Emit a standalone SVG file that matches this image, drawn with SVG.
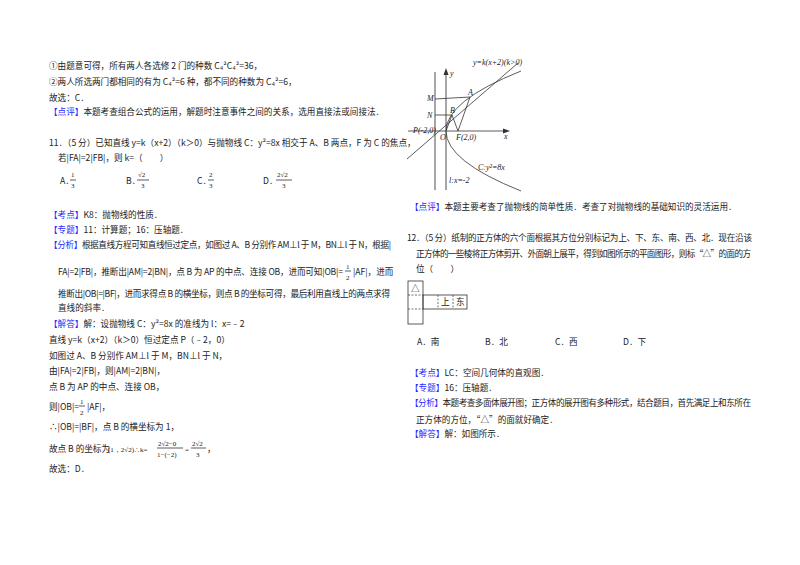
<svg xmlns="http://www.w3.org/2000/svg" width="800" height="565" viewBox="0 0 800 565">
<style>
text{font-family:"Noto Sans CJK SC","Liberation Sans",sans-serif;font-size:8.6px;fill:#222}
.b{fill:#2a2aff}
.m{font-family:"Liberation Serif",serif;font-style:italic;font-size:8px}
.f{font-family:"Liberation Serif",serif;font-size:7px}
.ln{stroke:#333;stroke-width:0.8;fill:none}
.g{stroke:#777;stroke-width:1.3;fill:none}
</style>
<rect width="800" height="565" fill="#fff"/>
<g id="left">
<text x="49" y="69">①由题意可得，所有两人各选修 2 门的种数 C₄²C₄²=36，</text>
<text x="49" y="85">②两人所选两门都相同的有为 C₄²=6 种，都不同的种数为 C₄²=6，</text>
<text x="49" y="101">故选：C．</text>
<text x="49" y="115"><tspan class="b">【点评】</tspan>本题考查组合公式的运用，解题时注意事件之间的关系，选用直接法或间接法．</text>
<text x="49" y="146">11．（5 分）已知直线 y=k（x+2）（k＞0）与抛物线 C：y²=8x 相交于 A、B 两点，F 为 C 的焦点，</text>
<text x="58" y="161">若|FA|=2|FB|，则 k=（　　）</text>
<text x="60" y="184">A．</text><text class="f" x="71" y="177">1</text><line x1="70" y1="180" x2="76" y2="180" class="ln"/><text class="f" x="71" y="188">3</text>
<text x="126" y="184">B．</text><text class="f" x="138" y="177">√2</text><line x1="137" y1="180" x2="149" y2="180" class="ln"/><text class="f" x="141" y="188">3</text>
<text x="197" y="184">C．</text><text class="f" x="209" y="177">2</text><line x1="208" y1="180" x2="214" y2="180" class="ln"/><text class="f" x="209" y="188">3</text>
<text x="263" y="184">D．</text><text class="f" x="277" y="177">2√2</text><line x1="276" y1="180" x2="292" y2="180" class="ln"/><text class="f" x="282" y="188">3</text>
<text x="49" y="218"><tspan class="b">【考点】</tspan>K8：抛物线的性质．</text>
<text x="49" y="233"><tspan class="b">【专题】</tspan>11：计算题；16：压轴题．</text>
<text x="49" y="248" textLength="342"><tspan class="b">【分析】</tspan>根据直线方程可知直线恒过定点，如图过 A、B 分别作 AM⊥l 于 M，BN⊥l 于 N，根据|</text>
<text x="58" y="275" textLength="285">FA|=2|FB|，推断出|AM|=2|BN|，点 B 为 AP 的中点、连接 OB，进而可知|OB|=</text>
<text class="f" x="346" y="269">1</text><line x1="345" y1="271" x2="351" y2="271" class="ln"/><text class="f" x="346" y="280">2</text>
<text x="353" y="275">|AF|，进而</text>
<text x="58" y="297" textLength="332">推断出|OB|=|BF|，进而求得点 B 的横坐标，则点 B 的坐标可得，最后利用直线上的两点求得</text>
<text x="58" y="311">直线的斜率．</text>
<text x="49" y="327"><tspan class="b">【解答】</tspan>解：设抛物线 C：y²=8x 的准线为 l：x=﹣2</text>
<text x="49" y="343">直线 y=k（x+2）（k＞0）恒过定点 P（﹣2，0）</text>
<text x="49" y="359">如图过 A、B 分别作 AM⊥l 于 M，BN⊥l 于 N，</text>
<text x="49" y="374">由|FA|=2|FB|，则|AM|=2|BN|，</text>
<text x="49" y="390">点 B 为 AP 的中点、连接 OB，</text>
<text x="49" y="410">则|OB|=</text><text class="f" x="80" y="404">1</text><line x1="79" y1="406" x2="85" y2="406" class="ln"/><text class="f" x="80" y="415">2</text><text x="87" y="410">|AF|，</text>
<text x="49" y="430">∴|OB|=|BF|，点 B 的横坐标为 1，</text>
<text x="49" y="452">故点 B 的坐标为</text><text class="f" x="108" y="452">(1，2√2)∴k=</text>
<text class="f" x="158" y="446">2√2−0</text><line x1="157" y1="448" x2="183" y2="448" class="ln"/><text class="f" x="157" y="457">1−(−2)</text>
<text class="f" x="185" y="452">=</text>
<text class="f" x="192" y="446">2√2</text><line x1="191" y1="448" x2="206" y2="448" class="ln"/><text class="f" x="196" y="457">3</text>
<text x="207" y="452">，</text>
<text x="49" y="472">故选：D．</text>
</g>
<g id="graph">
<line x1="408" y1="131" x2="505" y2="131" class="ln"/><path d="M510 131 L503 128.5 L503 133.5Z" fill="#333"/>
<line x1="446" y1="190" x2="446" y2="74" class="g"/><path d="M446 68 L443.5 75 L448.5 75Z" fill="#333"/>
<line x1="435" y1="72" x2="435" y2="190" class="g"/>
<path d="M446 131 Q446 101 521 71" class="ln"/>
<path d="M446 131 Q446 161 521 191" class="ln"/>
<line x1="407" y1="159" x2="518" y2="63" class="ln"/>
<polyline points="435,99 470,97 458,131 452,115 435,115" class="ln"/>
<line x1="446" y1="131" x2="452" y2="115" class="ln"/>
<text class="m" x="473" y="65" font-size="7">y=k(x+2)(k&gt;0)</text>
<text class="m" x="450" y="76">y</text>
<text class="m" x="427" y="101">M</text>
<text class="m" x="427" y="118">N</text>
<text class="m" x="468" y="95">A</text>
<text class="m" x="450" y="113">B</text>
<text class="m" x="413" y="133">P(-2,0)</text>
<text class="m" x="440" y="140">O</text>
<text class="m" x="456" y="140">F(2,0)</text>
<text class="m" x="504" y="139">x</text>
<text class="m" x="478" y="170">C:y²=8x</text>
<text class="m" x="449" y="183">l:x=-2</text>
</g>
<g id="right">
<text x="410" y="210"><tspan class="b">【点评】</tspan>本题主要考查了抛物线的简单性质．考查了对抛物线的基础知识的灵活运用．</text>
<text x="407" y="241" textLength="345">12．（5 分）纸制的正方体的六个面根据其方位分别标记为上、下、东、南、西、北．现在沿该</text>
<text x="416" y="257" textLength="335">正方体的一些棱将正方体剪开、外面朝上展平，得到如图所示的平面图形，则标“△”的面的方</text>
<text x="416" y="272">位（　　）</text>
<g class="ln"><rect x="408" y="281" width="15" height="43"/><rect x="423" y="295" width="44" height="14"/></g>
<g stroke="#333" stroke-width="0.7" stroke-dasharray="2,1.5"><line x1="408" y1="295" x2="423" y2="295"/><line x1="408" y1="309" x2="423" y2="309"/><line x1="438" y1="295" x2="438" y2="309"/><line x1="453" y1="295" x2="453" y2="309"/></g>
<text x="411" y="292">△</text><text x="441" y="305">上</text><text x="456" y="305" font-size="7">东</text>
<text x="417" y="345">A．南</text><text x="485" y="345">B．北</text><text x="555" y="345">C．西</text><text x="623" y="345">D．下</text>
<text x="410" y="376"><tspan class="b">【考点】</tspan>LC：空间几何体的直观图．</text>
<text x="410" y="391"><tspan class="b">【专题】</tspan>16：压轴题．</text>
<text x="410" y="406" textLength="341"><tspan class="b">【分析】</tspan>本题考查多面体展开图；正方体的展开图有多种形式，结合题目，首先满足上和东所在</text>
<text x="416" y="423">正方体的方位，“△”的面就好确定．</text>
<text x="410" y="437"><tspan class="b">【解答】</tspan>解：如图所示．</text>
</g>
</svg>
